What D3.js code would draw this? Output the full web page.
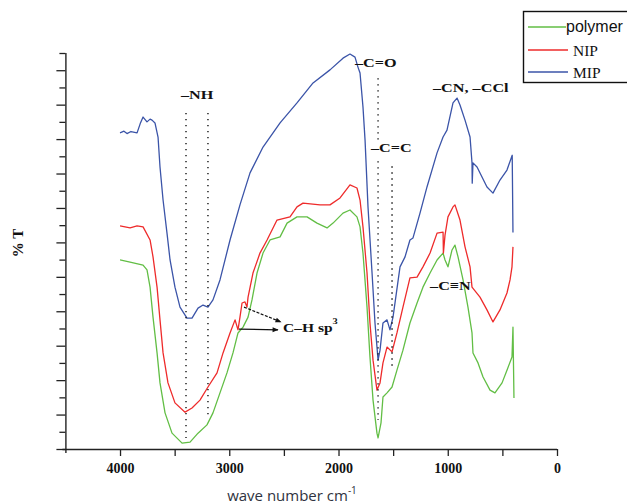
<!DOCTYPE html>
<html>
<head>
<meta charset="utf-8">
<script src="https://cdn.jsdelivr.net/npm/d3@7/dist/d3.min.js"></script>
<style>
  html, body { margin: 0; padding: 0; background: #fff; }
  svg { display: block; }
</style>
</head>
<body>
<svg id="chart" width="627" height="504"></svg>
<script>
// FTIR spectra: wavenumber (cm-1) against transmittance (%T, arbitrary offset)
const polymerWn = [4000,3908,3789,3753,3725,3698,3661,3634,3588,3524,3432,3359,3286,3204,3149,3085,3021,2966,2920,2874,2828,2792,2746,2691,2627,2535,2471,2380,2288,2197,2105,2050,1959,1895,1831,1803,1776,1739,1712,1684,1648,1638,1611,1593,1556,1510,1465,1410,1346,1281,1227,1162,1098,1043,1025,998,961,934,906,860,815,778,769,723,677,613,568,503,458,412,403,394];
const polymerT  = [54.9,54.3,53.4,52.0,47.0,38.3,27.9,19.2,10.5,4.6,1.7,2.0,4.6,7.0,10.5,16.3,22.1,27.9,33.7,35.4,38.3,43.3,51.1,56.9,60.7,61.6,65.6,67.4,67.4,65.6,64.2,65.6,68.5,69.4,67.4,64.5,56.9,41.2,26.7,14.2,4.6,3.2,7.6,15.1,16.3,18.0,22.9,28.7,36.6,42.4,47.0,51.1,54.9,56.9,54.9,52.9,57.8,59.2,55.8,49.1,41.2,33.7,27.9,25.0,20.9,17.1,16.3,19.2,22.9,26.7,35.4,14.8];

const nipWn = [4000,3908,3844,3789,3725,3698,3661,3634,3606,3561,3497,3405,3341,3268,3195,3112,3057,2993,2947,2920,2902,2883,2856,2838,2828,2783,2719,2654,2563,2444,2380,2325,2169,2078,1986,1895,1831,1803,1776,1739,1712,1684,1648,1620,1593,1556,1510,1465,1410,1346,1281,1227,1162,1098,1043,1040,1025,998,952,934,888,842,796,778,705,641,586,522,458,430,412,403];
const nipT  = [64.8,64.2,64.8,64.5,60.7,55.8,47.0,37.5,27.9,19.2,13.4,10.7,11.9,14.2,18.0,22.1,27.9,33.7,37.5,34.6,38.3,42.4,42.7,41.2,44.1,51.1,56.9,60.7,66.5,67.4,70.3,71.4,70.9,70.9,72.9,76.7,75.8,72.3,64.5,51.1,36.6,25.8,17.1,19.2,25.0,29.6,28.2,33.7,41.2,49.7,49.9,52.9,56.9,62.7,63.0,56.9,62.1,67.4,70.3,70.9,66.5,58.7,52.9,47.0,44.1,40.4,36.9,40.4,45.3,49.1,52.9,58.7];

const mipWn = [4000,3964,3936,3900,3844,3815,3789,3753,3725,3707,3680,3652,3634,3606,3570,3542,3497,3451,3387,3341,3286,3240,3195,3149,3085,2993,2902,2810,2691,2535,2380,2233,2078,1959,1895,1849,1822,1803,1776,1757,1730,1693,1666,1638,1620,1593,1556,1529,1501,1437,1391,1346,1318,1254,1190,1098,1043,1007,952,915,888,842,796,778,776,769,732,641,586,522,458,410,403];
const mipT  = [91.8,92.3,91.6,92.2,91.8,94.5,96.4,95.0,95.8,95.5,94.7,90.6,81.9,72.3,62.7,54.9,47.0,41.2,38.0,38.0,40.9,41.8,41.2,43.3,49.1,60.7,70.9,80.2,87.7,94.7,100.5,106.3,110.1,113.5,114.7,113.8,110.9,109.2,99.3,89.7,70.3,51.1,36.6,25.8,28.7,36.6,37.5,34.6,38.3,52.9,55.8,60.7,61.3,68.5,76.1,86.0,90.6,92.6,100.5,101.9,99.9,95.5,90.6,83.1,77.2,83.1,81.9,76.1,74.3,78.1,81.0,85.3,62.9];

const seriesNames = ["polymer", "NIP", "MIP"];
const xTickLabels = ["4000", "3000", "2000", "1000", "0"];

const svg = d3.select("#chart");
const colors = { polymer: "#62be45", NIP: "#ee2b2b", MIP: "#3b54a8" };

const x = d3.scaleLinear().domain([4500, 0]).range([65.4, 557]);
const y = d3.scaleLinear().domain([0, 115]).range([449, 53]);

// x axis: labelled every 1000 cm-1, unlabelled ticks halfway between
const xAxis = d3.axisBottom(x)
  .tickValues(d3.range(0, 4001, 500))
  .tickSize(7)
  .tickSizeOuter(0)
  .tickFormat(d => d % 1000 === 0 ? xTickLabels[4 - d / 1000] : "");
const gx = svg.append("g").attr("transform", `translate(0,${y(0)})`).call(xAxis);
gx.select(".domain").attr("stroke", "#222").attr("stroke-width", 1.4)
  .attr("d", `M${x(4500) - 3},0.5H${x(0)}`);
gx.selectAll(".tick line").attr("stroke", "#222").attr("stroke-width", 1.3);
gx.selectAll(".tick text")
  .attr("dy", "1.0em")
  .attr("fill", "#111")
  .style("font", "bold 14px 'Liberation Serif', 'Times New Roman', serif");

// y axis: unlabelled, alternating long and short ticks
const yAxis = d3.axisLeft(y)
  .tickValues(d3.range(0, 116, 5))
  .tickSizeOuter(0)
  .tickFormat("");
const gy = svg.append("g").attr("transform", `translate(${x(4500)},0)`).call(yAxis);
gy.select(".domain").attr("stroke", "#222").attr("stroke-width", 1.4)
  .attr("d", `M0.5,${y(115)}V${y(0) + 4}`);
gy.selectAll(".tick line")
  .attr("stroke", "#222").attr("stroke-width", 1.3)
  .attr("x2", d => (d / 5) % 2 === 0 ? -9 : -6);

// axis titles
svg.append("text")
  .attr("transform", `translate(23,243) rotate(-90)`)
  .attr("text-anchor", "middle")
  .style("font", "bold 15px 'Liberation Serif', 'Times New Roman', serif")
  .attr("fill", "#111")
  .text("% T");

const xt = svg.append("text")
  .attr("x", 292).attr("y", 501)
  .attr("text-anchor", "middle")
  .attr("fill", "#2f3340")
  .style("font", "15px 'Open Sans', 'DejaVu Sans', sans-serif");
xt.append("tspan").text("wave number cm");
xt.append("tspan").attr("dy", -7).style("font-size", "10px").text("-1");

// spectra
const line = d3.line().x(d => x(d[0])).y(d => y(d[1]));
const series = [
  { name: "polymer", wn: polymerWn, t: polymerT },
  { name: "NIP", wn: nipWn, t: nipT },
  { name: "MIP", wn: mipWn, t: mipT }
];
series.forEach(s => {
  svg.append("path")
    .datum(d3.zip(s.wn, s.t))
    .attr("fill", "none")
    .attr("stroke", colors[s.name])
    .attr("stroke-width", 1.3)
    .attr("stroke-linejoin", "round")
    .attr("d", line);
});

// dotted guide lines for band assignments
const guides = [
  { wn: 3396, from: 97.6, to: 3.2 },
  { wn: 3195, from: 97.6, to: 9.9 },
  { wn: 1638, from: 107.7, to: 89.9 },
  { wn: 1638, from: 83.6, to: 8.4 },
  { wn: 1510, from: 82.1, to: 23.2 }
];
guides.forEach(g => {
  svg.append("line")
    .attr("x1", x(g.wn)).attr("x2", x(g.wn))
    .attr("y1", y(g.from)).attr("y2", y(g.to))
    .attr("stroke", "#111").attr("stroke-width", 1.4)
    .attr("stroke-dasharray", "1.4,4.6");
});

// band labels (wide bold serif)
const bandFont = "bold 13.5px 'Liberation Serif', 'Times New Roman', serif";
const bands = [
  { text: "–NH", wn: 3442, t: 101.6 },
  { text: "–C=O", wn: 1849, t: 110.9 },
  { text: "–C=C", wn: 1703, t: 86.2 },
  { text: "–CN, –CCl", wn: 1135, t: 103.7 },
  { text: "–C≡N", wn: 1162, t: 46.2 }
];
bands.forEach(b => {
  svg.append("text")
    .attr("transform", `translate(${x(b.wn)},${y(b.t)}) scale(1.2,1)`)
    .attr("fill", "#111")
    .style("font", bandFont)
    .text(b.text);
});
const ch = svg.append("text")
  .attr("transform", `translate(${x(2508)},${y(34.0)}) scale(1.15,1)`)
  .attr("fill", "#111")
  .style("font", bandFont);
ch.append("tspan").text("C–H sp");
ch.append("tspan").attr("dy", -8).style("font-size", "9px").text("3");

// arrows pointing at the C–H stretches
const defs = svg.append("defs");
defs.append("marker")
  .attr("id", "head")
  .attr("viewBox", "0 0 10 10")
  .attr("refX", 9).attr("refY", 5)
  .attr("markerWidth", 6).attr("markerHeight", 5)
  .attr("orient", "auto")
  .append("path").attr("d", "M0,1L10,5L0,9Z").attr("fill", "#111");
const arrows = [
  { from: [2865, 41.2], to: [2527, 36.9], dash: "3,1.5" },
  { from: [2911, 34.8], to: [2554, 34.6], dash: null }
];
arrows.forEach(a => {
  svg.append("line")
    .attr("x1", x(a.from[0])).attr("y1", y(a.from[1]))
    .attr("x2", x(a.to[0])).attr("y2", y(a.to[1]))
    .attr("stroke", "#111").attr("stroke-width", 1.2)
    .attr("stroke-dasharray", a.dash)
    .attr("marker-end", "url(#head)");
});

// legend
const legend = svg.append("g");
legend.append("rect")
  .attr("x", 523.5).attr("y", 11.5).attr("width", 120).attr("height", 71)
  .attr("fill", "#fff").attr("stroke", "#111").attr("stroke-width", 1.4);
const legendRows = [
  { name: seriesNames[0], y: 27, x2: 566, tx: 566, font: "16px 'Liberation Sans', Arial, sans-serif", base: 32 },
  { name: seriesNames[1], y: 50, x2: 568, tx: 573, font: "15.5px 'Liberation Serif', 'Times New Roman', serif", base: 55.5 },
  { name: seriesNames[2], y: 72, x2: 568, tx: 573, font: "15.5px 'Liberation Serif', 'Times New Roman', serif", base: 77.5 }
];
legendRows.forEach(r => {
  legend.append("line")
    .attr("x1", 528).attr("x2", r.x2).attr("y1", r.y).attr("y2", r.y)
    .attr("stroke", colors[r.name]).attr("stroke-width", 1.4);
  legend.append("text")
    .attr("x", r.tx).attr("y", r.base)
    .attr("fill", "#111")
    .style("font", r.font)
    .text(r.name);
});
</script>
</body>
</html>
